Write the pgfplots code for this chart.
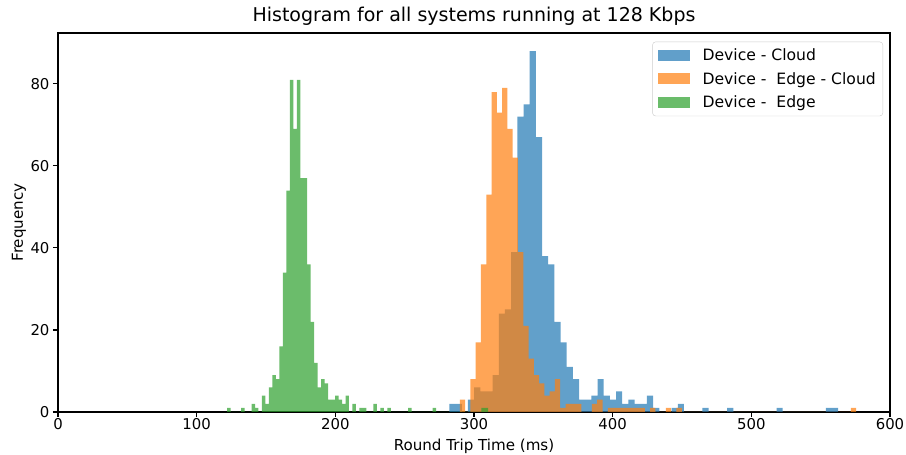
\documentclass[border=0pt]{standalone}
\usepackage{pgfplots}
\pgfplotsset{compat=1.18}
\usepackage{fontspec}
\setmainfont{DejaVu Sans}
\definecolor{tabblue}{RGB}{31,119,180}
\definecolor{taborange}{RGB}{255,127,14}
\definecolor{tabgreen}{RGB}{44,160,44}
\begin{document}
\begin{tikzpicture}
\useasboundingbox (-58pt,-43pt) rectangle (848pt,412pt);
\begin{axis}[
  at={(0,0)}, anchor=south west,
  scale only axis, width=832pt, height=379pt,
  xmin=0, xmax=600, ymin=0, ymax=92.4,
  xtick={0,100,...,600}, ytick={0,20,...,80},
  tick align=outside, xtick pos=bottom, ytick pos=left,
  major tick length=5pt,
  every tick/.style={black, line width=1.1pt},
  axis line style={line width=1.1pt},
  /pgf/number format/assume math mode=true,
  ticklabel style={font=\fontsize{14.9}{17}\selectfont},
  xticklabel style={anchor=base, yshift=-12.5pt},
  title={Histogram for all systems running at 128 Kbps},
  title style={font=\fontsize{19}{22}\selectfont, at={(0.5,1)}, anchor=base, yshift=5pt},
  xlabel={Round Trip Time (ms)},
  ylabel={Frequency},
  every axis x label/.style={at={(axis description cs:0.5,0)}, anchor=base, yshift=-38.5pt, font=\fontsize{15.1}{17}\selectfont},
  every axis y label/.style={at={(axis description cs:0,0.5)}, xshift=-35pt, rotate=90, anchor=base, font=\fontsize{15.1}{17}\selectfont},
  legend image code/.code={\fill[#1, sharp corners] (0pt,-5.5pt) rectangle (32pt,5.5pt);},
  legend cell align=left,
  legend style={at={(1,1)}, anchor=north east, xshift=-7pt, yshift=-8.7pt,
    draw=black!20, rounded corners=3pt, fill=white,
    font=\fontsize{15.6}{18}\selectfont, row sep=6pt,
    inner xsep=5pt, inner ysep=5pt,
    /tikz/every odd column/.append style={column sep=11pt}},
]
\addplot[const plot, fill=tabblue, fill opacity=0.7, draw=none] table {
x y
282.30 2
286.75 2
291.20 0
295.65 3
300.10 6
304.55 5
309.00 5
313.45 9
317.90 24
322.35 25
326.80 39
331.25 72
335.70 75
340.15 88
344.60 67
349.05 38
353.50 36
357.95 22
362.40 17
366.85 11
371.30 8
375.75 3
380.20 3
384.65 4
389.10 8
393.55 4
398.00 3
402.45 5
406.90 2
411.35 3
415.80 2
420.25 2
424.70 4
429.15 1
433.60 0
438.05 0
442.50 1
446.95 2
451.40 0
464.75 1
469.20 0
482.55 1
487.00 0
518.15 1
522.60 0
553.75 1
558.20 1
562.65 0
} \closedcycle;
\addlegendentry{Device - Cloud}
\addplot[const plot, fill=taborange, fill opacity=0.7, draw=none] table {
x y
289.80 3
293.61 0
297.42 8
301.23 17
305.04 36
308.85 53
312.66 78
316.47 73
320.28 79
324.09 69
327.90 62
331.71 39
335.52 21
339.33 13
343.14 9
346.95 7
350.76 4
354.57 5
358.38 8
362.19 1
366.00 2
369.81 2
373.62 2
377.43 0
385.05 2
388.86 3
392.67 0
396.48 1
400.29 1
404.10 1
407.91 1
411.72 1
415.53 1
419.34 1
423.15 0
426.96 1
430.77 0
438.39 1
442.20 0
446.01 1
449.82 0
571.74 1
575.55 0
} \closedcycle;
\addlegendentry{Device -\ \ Edge - Cloud}
\addplot[const plot, fill=tabgreen, fill opacity=0.7, draw=none] table {
x y
122.00 1
124.51 0
132.04 1
134.55 0
139.57 2
142.08 1
144.59 0
147.10 4
149.61 2
152.12 6
154.63 9
157.14 8
159.65 16
162.16 34
164.67 54
167.18 81
169.69 69
172.20 81
174.71 57
177.22 57
179.73 36
182.24 22
184.75 12
187.26 6
189.77 8
192.28 7
194.79 3
197.30 3
199.81 4
202.32 3
204.83 2
207.34 4
209.85 0
212.36 2
214.87 0
217.38 1
219.89 1
222.40 0
227.42 2
229.93 0
232.44 1
234.95 0
237.46 1
239.97 0
252.52 1
255.03 0
270.09 1
272.60 0
305.23 1
307.74 1
310.25 0
} \closedcycle;
\addlegendentry{Device -\ \ Edge}
\end{axis}
\end{tikzpicture}
\end{document}
